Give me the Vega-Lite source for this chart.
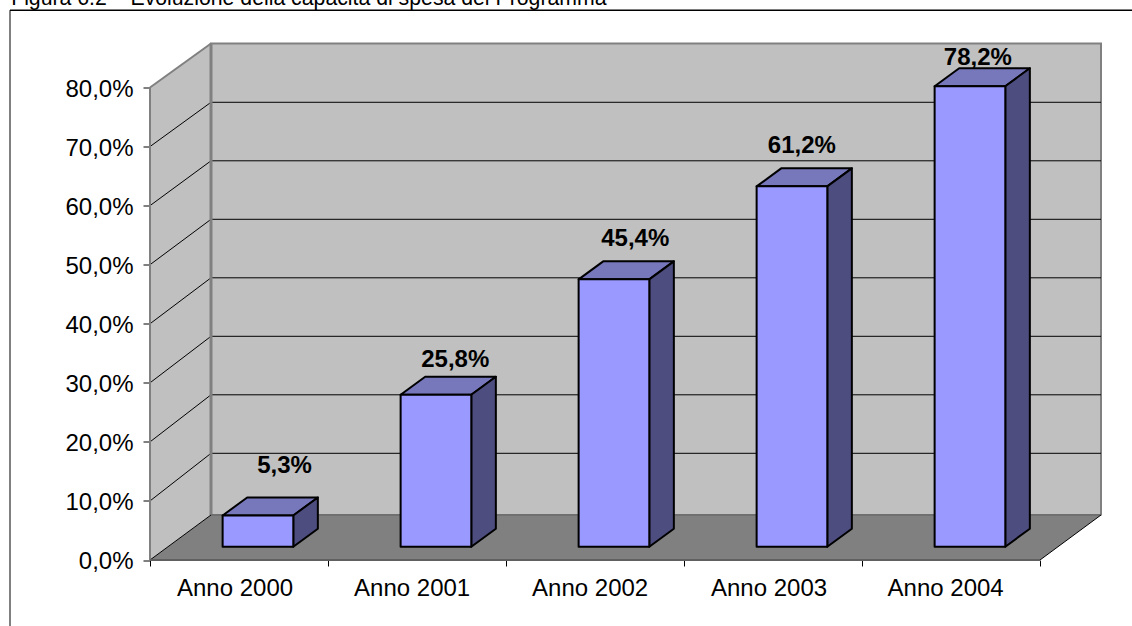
{
"$schema":"https://vega.github.io/schema/vega-lite/v6.json",
"width":951,"height":516.5,
"autosize":"none",
"padding":{"left":150,"top":43.5,"right":31,"bottom":66},
"background":"white",
"view":{"stroke":null},
"config":{"font":"Liberation Sans"},
"datasets":{
"bars":[{"anno":"Anno 2000","valore":5.3},{"anno":"Anno 2001","valore":25.8},{"anno":"Anno 2002","valore":45.4},{"anno":"Anno 2003","valore":61.2},{"anno":"Anno 2004","valore":78.2}],
"griglia":[{"v":10},{"v":20},{"v":30},{"v":40},{"v":50},{"v":60},{"v":70}],
"uno":[{"didascalia":"Figura 6.2 – Evoluzione della capacità di spesa del Programma"}]
},
"layer":[
{"data":{"name":"uno"},"transform":[{"calculate":"-0.7865","as":"a"},{"calculate":"5.52","as":"b"},{"calculate":"93.1","as":"c"}],
"mark":{"type":"rule","stroke":"black","strokeWidth":1.5},
"encoding":{"x":{"field":"a","type":"quantitative","scale":{"domain":[0,5.3427],"nice":false,"zero":false},"axis":{"values":[0,0.475,1,1.47,2,2.47,3,3.475,4,4.467,5],"labelExpr":"datum.value==floor(datum.value)?'':'Anno '+(2000+floor(datum.value))","tickOpacity":{"condition":{"test":"datum.value==floor(datum.value)","value":1},"value":0},"domain":false,"grid":false,"title":null,"tickSize":6,"tickColor":"black","labelFontSize":24,"labelColor":"black","labelPadding":10,"labelFont":"Liberation Sans","labelOverlap":false,"labelFlush":false}},"x2":{"field":"b"},"y":{"field":"c","type":"quantitative","scale":{"domain":[0,87.45],"nice":false,"zero":false},"axis":{"values":[0,10,20,30,40,50,60,70,80],"labelExpr":"replace(format(datum.value,'.1f'),'.',',')+'%'","domain":false,"grid":false,"title":null,"tickSize":7,"tickColor":"black","labelFontSize":24,"labelColor":"black","labelPadding":10,"labelOffset":1.5,"labelFont":"Liberation Sans","labelOverlap":false,"labelFlush":false}}}},
{"data":{"name":"uno"},"transform":[{"calculate":"-0.7865","as":"a"},{"calculate":"93.1","as":"c"},{"calculate":"-11.2","as":"d"}],
"mark":{"type":"rule","stroke":"black","strokeWidth":1},
"encoding":{"x":{"field":"a","type":"quantitative"},"y":{"field":"c","type":"quantitative"},"y2":{"field":"d"}}},
{"data":{"name":"uno"},"transform":[{"calculate":"-0.78","as":"a"},{"calculate":"93.95","as":"c"}],
"mark":{"type":"text","align":"left","baseline":"alphabetic","fontSize":21.25,"color":"black"},
"encoding":{"x":{"field":"a","type":"quantitative"},"y":{"field":"c","type":"quantitative"},"text":{"field":"didascalia"}}},
{"data":{"name":"uno"},"transform":[{"calculate":"[0,0.3427]","as":"ax"},{"calculate":"[0,7.62]","as":"ay"},{"calculate":"[80,87.45]","as":"ay2"},{"flatten":["ax","ay","ay2"]}],
"mark":{"type":"area","orient":"vertical","fill":"#C0C0C0"},
"encoding":{"x":{"field":"ax","type":"quantitative"},"y":{"field":"ay","type":"quantitative"},"y2":{"field":"ay2"}}},
{"data":{"name":"uno"},"transform":[{"calculate":"[0.3427,5.3427]","as":"ax"},{"calculate":"[7.62,7.62]","as":"ay"},{"calculate":"[87.45,87.45]","as":"ay2"},{"flatten":["ax","ay","ay2"]}],
"mark":{"type":"area","orient":"vertical","fill":"#C0C0C0","stroke":"#808080","strokeWidth":2},
"encoding":{"x":{"field":"ax","type":"quantitative"},"y":{"field":"ay","type":"quantitative"},"y2":{"field":"ay2"}}},
{"data":{"name":"uno"},"transform":[{"calculate":"[0,0.3427,5,5.3427]","as":"ax"},{"calculate":"[0,7.62,7.62,7.62]","as":"ay"},{"calculate":"[0,0,0,7.62]","as":"ay2"},{"flatten":["ax","ay","ay2"]}],
"mark":{"type":"area","orient":"vertical","fill":"#808080"},
"encoding":{"x":{"field":"ax","type":"quantitative"},"y":{"field":"ay","type":"quantitative"},"y2":{"field":"ay2"}}},
{"data":{"name":"griglia"},"transform":[{"calculate":"8.16+datum.v*0.9905","as":"vb"},{"calculate":"0.3427","as":"a"},{"calculate":"5.3427","as":"b"}],
"mark":{"type":"rule","stroke":"black","strokeWidth":1},
"encoding":{"x":{"field":"a","type":"quantitative"},"x2":{"field":"b"},"y":{"field":"vb","type":"quantitative"}}},
{"data":{"name":"griglia"},"transform":[{"calculate":"8.16+datum.v*0.9905","as":"vb"},{"calculate":"0","as":"a"},{"calculate":"0.3427","as":"b"}],
"mark":{"type":"rule","stroke":"black","strokeWidth":1},
"encoding":{"x":{"field":"a","type":"quantitative"},"x2":{"field":"b"},"y":{"field":"v","type":"quantitative"},"y2":{"field":"vb"}}},
{"data":{"name":"uno"},"transform":[{"calculate":"0","as":"a"},{"calculate":"0.3427","as":"b"},{"calculate":"80","as":"c"},{"calculate":"87.45","as":"d"}],
"mark":{"type":"rule","stroke":"#808080","strokeWidth":2},
"encoding":{"x":{"field":"a","type":"quantitative"},"x2":{"field":"b"},"y":{"field":"c","type":"quantitative"},"y2":{"field":"d"}}},
{"data":{"name":"uno"},"transform":[{"calculate":"0","as":"a"},{"calculate":"0","as":"c"},{"calculate":"80","as":"d"}],
"mark":{"type":"rule","stroke":"#808080","strokeWidth":2},
"encoding":{"x":{"field":"a","type":"quantitative"},"y":{"field":"c","type":"quantitative"},"y2":{"field":"d"}}},
{"data":{"name":"uno"},"transform":[{"calculate":"0.3427","as":"a"},{"calculate":"7.62","as":"c"},{"calculate":"87.45","as":"d"}],
"mark":{"type":"rule","stroke":"#808080","strokeWidth":3},
"encoding":{"x":{"field":"a","type":"quantitative"},"y":{"field":"c","type":"quantitative"},"y2":{"field":"d"}}},
{"data":{"name":"uno"},"transform":[{"calculate":"0","as":"a"},{"calculate":"0.3427","as":"b"},{"calculate":"0","as":"c"},{"calculate":"7.62","as":"d"}],
"mark":{"type":"rule","stroke":"black","strokeWidth":1},
"encoding":{"x":{"field":"a","type":"quantitative"},"x2":{"field":"b"},"y":{"field":"c","type":"quantitative"},"y2":{"field":"d"}}},
{"data":{"name":"uno"},"transform":[{"calculate":"0.3427","as":"a"},{"calculate":"5.3427","as":"b"},{"calculate":"7.62","as":"c"}],
"mark":{"type":"rule","stroke":"#606060","strokeWidth":1},
"encoding":{"x":{"field":"a","type":"quantitative"},"x2":{"field":"b"},"y":{"field":"c","type":"quantitative"}}},
{"data":{"name":"uno"},"transform":[{"calculate":"5.004","as":"a"},{"calculate":"5.3467","as":"b"},{"calculate":"-0.1","as":"c"},{"calculate":"7.52","as":"d"}],
"mark":{"type":"rule","stroke":"white","strokeWidth":1},
"encoding":{"x":{"field":"a","type":"quantitative"},"x2":{"field":"b"},"y":{"field":"c","type":"quantitative"},"y2":{"field":"d"}}},
{"data":{"name":"uno"},"transform":[{"calculate":"5","as":"a"},{"calculate":"5.3427","as":"b"},{"calculate":"0","as":"c"},{"calculate":"7.62","as":"d"}],
"mark":{"type":"rule","stroke":"black","strokeWidth":1},
"encoding":{"x":{"field":"a","type":"quantitative"},"x2":{"field":"b"},"y":{"field":"c","type":"quantitative"},"y2":{"field":"d"}}},
{"data":{"name":"uno"},"transform":[{"calculate":"0","as":"a"},{"calculate":"5","as":"b"},{"calculate":"0","as":"c"}],
"mark":{"type":"rule","stroke":"#606060","strokeWidth":2},
"encoding":{"x":{"field":"a","type":"quantitative"},"x2":{"field":"b"},"y":{"field":"c","type":"quantitative"}}},
{"data":{"name":"bars"},
"transform":[
{"calculate":"toNumber(substring(datum.anno,5))-2000","as":"i"},
{"calculate":"datum.i+0.408","as":"x0"},
{"calculate":"datum.x0+0.397","as":"x1"},
{"calculate":"datum.valore*0.997+2.25","as":"top"},
{"calculate":"[datum.x0,datum.x0+0.138,datum.x1,datum.x1+0.138]","as":"ax"},
{"calculate":"[datum.top,datum.top+3.05,datum.top+3.05,datum.top+3.05]","as":"ay"},
{"calculate":"[datum.top,datum.top,datum.top,datum.top+3.05]","as":"ay2"},
{"flatten":["ax","ay","ay2"]}
],
"mark":{"type":"area","orient":"vertical","fill":"#7777BB","stroke":"black","strokeWidth":2,"strokeJoin":"round"},
"encoding":{"x":{"field":"ax","type":"quantitative"},"y":{"field":"ay","type":"quantitative"},"y2":{"field":"ay2"},"detail":{"field":"anno"}}},
{"data":{"name":"bars"},
"transform":[
{"calculate":"toNumber(substring(datum.anno,5))-2000+0.805","as":"x1"},
{"calculate":"[datum.x1,datum.x1+0.138]","as":"ax"},
{"calculate":"[2.25,5.3]","as":"ay"},
{"calculate":"[datum.valore*0.997+2.25,datum.valore*0.997+5.3]","as":"ay2"},
{"flatten":["ax","ay","ay2"]}
],
"mark":{"type":"area","orient":"vertical","fill":"#4D4D80","stroke":"black","strokeWidth":2,"strokeJoin":"round"},
"encoding":{"x":{"field":"ax","type":"quantitative"},"y":{"field":"ay","type":"quantitative"},"y2":{"field":"ay2"},"detail":{"field":"anno"}}},
{"data":{"name":"bars"},
"transform":[
{"calculate":"toNumber(substring(datum.anno,5))-2000","as":"i"},
{"calculate":"datum.i+0.408","as":"x0"},
{"calculate":"datum.x0+0.397","as":"x1"},
{"calculate":"datum.valore*0.997+2.25","as":"top"},
{"calculate":"2.25","as":"base"}
],
"mark":{"type":"rect","fill":"#9999FF","stroke":"black","strokeWidth":2,"strokeJoin":"round"},
"encoding":{"x":{"field":"x0","type":"quantitative"},"x2":{"field":"x1"},"y":{"field":"base","type":"quantitative"},"y2":{"field":"top"}}},
{"data":{"name":"bars"},
"transform":[
{"calculate":"toNumber(substring(datum.anno,5))-2000","as":"i"},
{"calculate":"datum.i+0.6+[0.156,0.115,0.126,0.062,0.051][datum.i]","as":"lx"},
{"calculate":"datum.valore+2.25+[7.13,4.57,5.43,5.43,3.38][datum.i]","as":"ly"},
{"calculate":"replace(format(datum.valore,'.1f'),'.',',')+'%'","as":"etichetta"}
],
"mark":{"type":"text","fontSize":24,"fontWeight":"bold","baseline":"alphabetic","align":"center","color":"black"},
"encoding":{"x":{"field":"lx","type":"quantitative"},"y":{"field":"ly","type":"quantitative"},"text":{"field":"etichetta"}}}
]
}
